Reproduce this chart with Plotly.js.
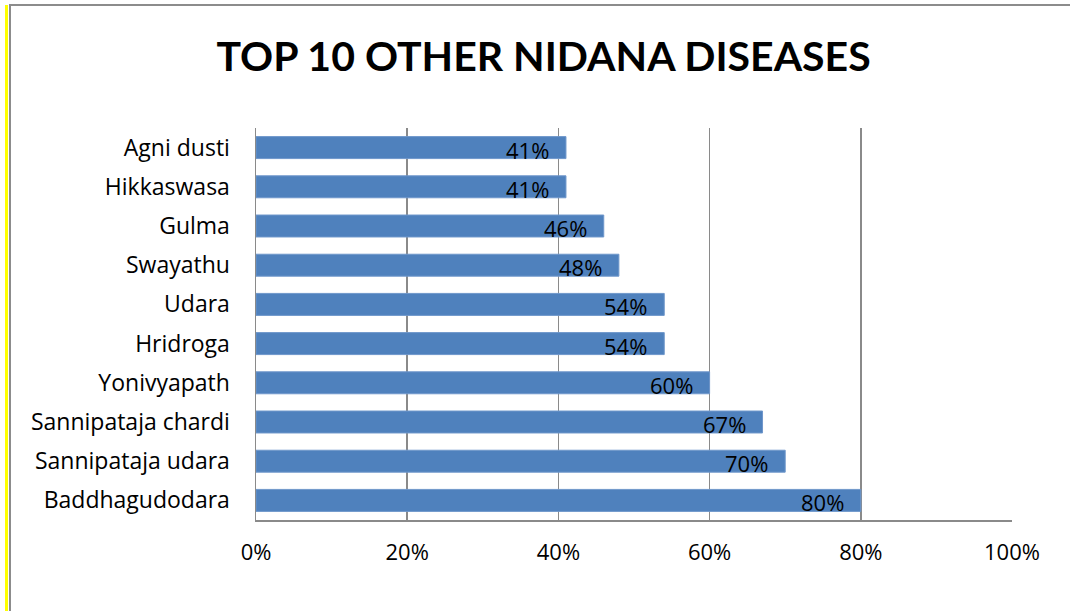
<!DOCTYPE html>
<html>
<head>
<meta charset="utf-8">
<script src="https://cdn.plot.ly/plotly-3.0.1.min.js"></script>
<style>
  html, body { margin: 0; padding: 0; background: #ffffff; }
  #wrap { position: relative; width: 1070px; height: 611px; overflow: hidden; }
  #chart { position: absolute; left: 0; top: 0; width: 1070px; height: 611px; }
  .edge-yellow { position: absolute; left: 5px; top: 5px; width: 3px; height: 606px; background: #ffff00; }
  .edge-left { position: absolute; left: 9px; top: 4px; width: 2px; height: 607px; background: #8c8c8c; }
  .edge-top { position: absolute; left: 9px; top: 4px; width: 1061px; height: 2px; background: #8c8c8c; }
</style>
</head>
<body>
<div id="wrap">
  <div id="chart"></div>
  <div class="edge-yellow"></div>
  <div class="edge-left"></div>
  <div class="edge-top"></div>
</div>
<script>
// Diseases, listed from the top of the chart downwards
const diseases = [
  "Agni dusti",
  "Hikkaswasa",
  "Gulma",
  "Swayathu",
  "Udara",
  "Hridroga",
  "Yonivyapath",
  "Sannipataja chardi",
  "Sannipataja udara",
  "Baddhagudodara"
];
// Share of cases, in percent
const percentages = [41, 41, 46, 48, 54, 54, 60, 67, 70, 80];
const xTickValues = [0, 20, 40, 60, 80, 100];
const xTickLabels = ["0%", "20%", "40%", "60%", "80%", "100%"];

const TEXT_FONT = "'Open Sans', 'Noto Sans', sans-serif";
const TITLE_FONT = "Lato, 'Open Sans', sans-serif";

const trace = {
  type: "bar",
  orientation: "h",
  x: percentages,
  y: diseases,
  marker: { color: "#4f81bd", line: { color: "#6f97cb", width: 1 } },
  hoverinfo: "x+y"
};

// Value labels placed just inside the end of each bar
const valueLabels = diseases.map((d, i) => ({
  x: percentages[i],
  y: d,
  xref: "x",
  yref: "y",
  text: percentages[i] + "%",
  showarrow: false,
  xanchor: "right",
  yanchor: "middle",
  xshift: -15,
  yshift: -2,
  font: { family: TEXT_FONT, size: 22, color: "#000000" }
}));

const layout = {
  width: 1070,
  height: 611,
  margin: { l: 256, r: 58, t: 128, b: 91 },
  paper_bgcolor: "#ffffff",
  plot_bgcolor: "#ffffff",
  showlegend: false,
  bargap: 0.44,
  title: {
    text: "<b>TOP 10 OTHER NIDANA DISEASES</b>",
    font: { family: TITLE_FONT, size: 41, color: "#000000" },
    x: 0.508,
    xanchor: "center",
    y: 0.907,
    yanchor: "middle"
  },
  xaxis: {
    range: [0, 100],
    tickvals: xTickValues,
    ticktext: xTickLabels,
    showgrid: true,
    gridcolor: "#8a8a8a",
    gridwidth: 1.5,
    zeroline: false,
    showline: true,
    linecolor: "#8a8a8a",
    linewidth: 1.5,
    ticks: "",
    ticklabelstandoff: 12,
    tickfont: { family: TEXT_FONT, size: 22, color: "#000000" },
    fixedrange: true
  },
  yaxis: {
    type: "category",
    categoryorder: "array",
    categoryarray: diseases,
    autorange: "reversed",
    showgrid: false,
    zeroline: false,
    showline: true,
    linecolor: "#8a8a8a",
    linewidth: 1.5,
    ticks: "",
    ticklabelstandoff: 20,
    tickfont: { family: TEXT_FONT, size: 23, color: "#000000" },
    fixedrange: true
  },
  annotations: valueLabels
};

Plotly.newPlot("chart", [trace], layout, { displayModeBar: false, staticPlot: true });
</script>
</body>
</html>
